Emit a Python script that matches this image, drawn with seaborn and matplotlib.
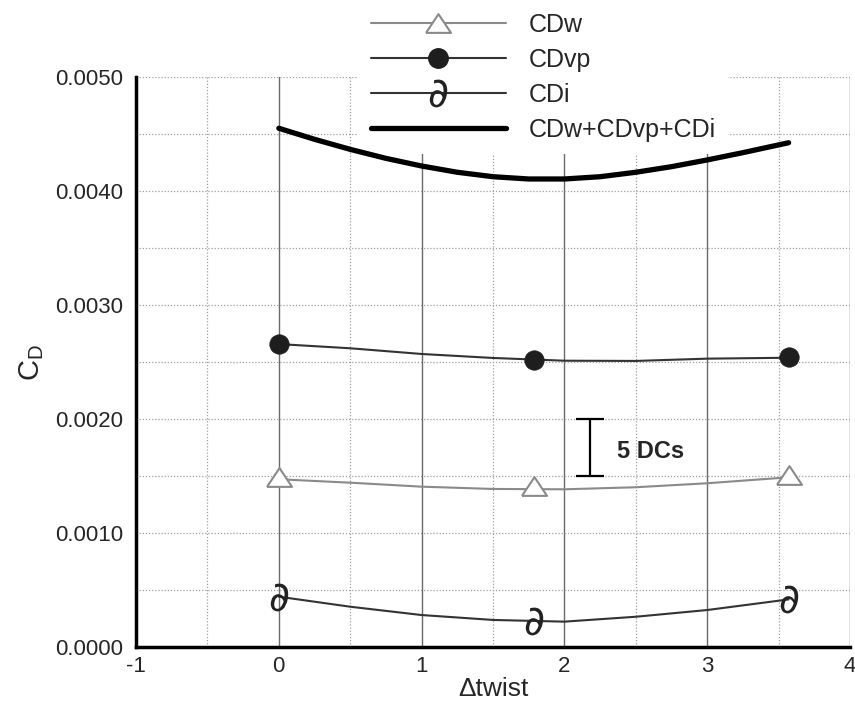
import matplotlib
matplotlib.use("Agg")
import matplotlib.pyplot as plt
from matplotlib.lines import Line2D
from matplotlib.ticker import MultipleLocator, FormatStrFormatter
from matplotlib.textpath import TextPath
from matplotlib.font_manager import FontProperties
from matplotlib.transforms import Affine2D
import seaborn as sns
import numpy as np

# ---------------- data ----------------
twist_pts = [0.0, 1.785, 3.57]
cdw_pts = [0.001494, 0.001412, 0.001511]
cdvp_pts = [0.002660, 0.002520, 0.002548]
cdi_pts = [0.000442, 0.000231, 0.000424]

curve_x = [0.0, 0.5, 1.0, 1.5, 2.0, 2.5, 3.0, 3.57]
cdw_curve = [0.001474, 0.001444, 0.001409, 0.001389, 0.001386, 0.001404, 0.001439, 0.001491]
cdvp_curve = [0.002660, 0.002623, 0.002573, 0.002538, 0.002514, 0.002512, 0.002532, 0.002540]
cdi_curve = [0.000444, 0.000356, 0.000283, 0.000240, 0.000225, 0.000268, 0.000327, 0.000420]

total_x = [0.0, 0.25, 0.5, 0.75, 1.0, 1.25, 1.5, 1.75, 2.0, 2.25, 2.5, 2.75, 3.0, 3.25, 3.57]
total_curve = [0.004553, 0.004456, 0.004368, 0.004289, 0.004222, 0.004167, 0.004128, 0.004108,
               0.004108, 0.004128, 0.004167, 0.004216, 0.004275, 0.004339, 0.004426]

labels = ["CDw", "CDvp", "CDi", "CDw+CDvp+CDi"]

scale_bar_x = 2.18
scale_bar_lo = 0.0015
scale_bar_hi = 0.0020
scale_text = "5 DCs"

x_ticks = [-1, 0, 1, 2, 3, 4]

# ---------------- style ----------------
sns.set_style("white")
plt.rcParams['font.family'] = ['Liberation Sans', 'DejaVu Sans']
plt.rcParams['mathtext.fontset'] = 'custom'
plt.rcParams['mathtext.rm'] = 'Liberation Sans'
plt.rcParams['mathtext.it'] = 'Liberation Sans:italic'
plt.rcParams['mathtext.bf'] = 'Liberation Sans:bold'
plt.rcParams['axes.unicode_minus'] = False

fig = plt.figure(figsize=(8.55, 7.02), dpi=100)
ax = fig.add_axes([136/855, 1 - 647.3/702, (850 - 136)/855, (647.3 - 77.3)/702])

c_w = '#8a8a8a'
c_vp = '#333333'
c_i = '#333333'
tri = [(-1, -0.75), (1, -0.75), (0, 0.75), (-1, -0.75)]

# upright partial-derivative glyph as a centred marker path
_tp = TextPath((0, 0), '\u2202', size=10, prop=FontProperties(family='DejaVu Sans'))
_ext = _tp.get_extents()
dmark = Affine2D().translate(-(_ext.x0 + _ext.x1) / 2, -(_ext.y0 + _ext.y1) / 2).transform_path(_tp)

# curves
sns.lineplot(x=curve_x, y=cdw_curve, ax=ax, color=c_w, lw=1.5, zorder=3)
sns.lineplot(x=curve_x, y=cdvp_curve, ax=ax, color=c_vp, lw=1.5, zorder=3)
sns.lineplot(x=curve_x, y=cdi_curve, ax=ax, color=c_i, lw=1.5, zorder=3)
sns.lineplot(x=total_x, y=total_curve, ax=ax, color='black', lw=3.8, zorder=3)

# markers
sns.scatterplot(x=twist_pts, y=cdw_pts, ax=ax, marker=tri, s=18**2,
                facecolor='white', edgecolor=c_w, linewidth=1.5, zorder=4)
sns.scatterplot(x=twist_pts, y=cdvp_pts, ax=ax, marker='o', s=14**2,
                color='#1e1e1e', edgecolor='#1e1e1e', linewidth=0.5, zorder=4)
sns.scatterplot(x=twist_pts, y=cdi_pts, ax=ax, marker=dmark, s=20**2,
                color='#222222', linewidth=0, zorder=4)

# scale bar annotation
ax.errorbar([scale_bar_x], [(scale_bar_lo + scale_bar_hi) / 2],
            yerr=[(scale_bar_hi - scale_bar_lo) / 2], color='black', lw=1.6,
            capsize=10, capthick=1.6, zorder=5)
ax.text(2.37, 0.00172, scale_text, fontsize=17, fontweight='bold', va='center', ha='left', zorder=5)

# axes
ax.set_xlim(-1, 4)
ax.set_ylim(0, 0.005)
ax.set_xticks(x_ticks)
ax.xaxis.set_minor_locator(MultipleLocator(0.5))
ax.yaxis.set_major_locator(MultipleLocator(0.001))
ax.yaxis.set_minor_locator(MultipleLocator(0.0005))
ax.yaxis.set_major_formatter(FormatStrFormatter('%.4f'))

ax.grid(False)
ax.xaxis.grid(True, which='major', ls='-', color='#6a6a6a', lw=1.0)
ax.xaxis.grid(True, which='minor', ls=(0, (1, 1.5)), color='#a0a0a0', lw=0.9)
ax.yaxis.grid(True, which='both', ls=(0, (1, 1.5)), color='#a0a0a0', lw=0.9)
ax.set_axisbelow(True)

for s in ['top', 'right']:
    ax.spines[s].set_visible(False)
for s in ['left', 'bottom']:
    ax.spines[s].set_linewidth(2.5)
    ax.spines[s].set_color('black')
    ax.spines[s].set_zorder(6)

ax.tick_params(which='major', direction='in', length=7, width=2.0, color='black',
               labelsize=16, pad=9.5)
ax.tick_params(which='minor', direction='in', length=4, width=1.5, color='black')
ax.tick_params(axis='x', which='major', pad=6)

ax.set_xlabel('\u0394twist', fontsize=19, labelpad=0)
ax.set_ylabel(r'$\mathrm{C_D}$', fontsize=21, labelpad=6)

# legend
handles = [
    Line2D([], [], color=c_w, lw=1.5, marker=tri, markersize=18,
           markerfacecolor='white', markeredgecolor=c_w, markeredgewidth=1.5),
    Line2D([], [], color=c_vp, lw=1.5, marker='o', markersize=14,
           markerfacecolor='#1e1e1e', markeredgecolor='#1e1e1e'),
    Line2D([], [], color=c_i, lw=1.5, marker=dmark, markersize=20,
           markerfacecolor='#222222', markeredgecolor='#222222', markeredgewidth=0),
    Line2D([], [], color='black', lw=3.8),
]
leg = ax.legend(handles, labels, loc='upper left', bbox_to_anchor=(358/855, 1.0),
                bbox_transform=fig.transFigure, fontsize=18, handlelength=5.4,
                handletextpad=0.92, labelspacing=0.44, borderpad=0.5,
                borderaxespad=0, frameon=True, fancybox=False, numpoints=1)
leg.get_frame().set_facecolor('white')
leg.get_frame().set_edgecolor('none')
leg.get_frame().set_alpha(1)
leg.set_zorder(2.5)

fig.savefig('out.png', dpi=100)
